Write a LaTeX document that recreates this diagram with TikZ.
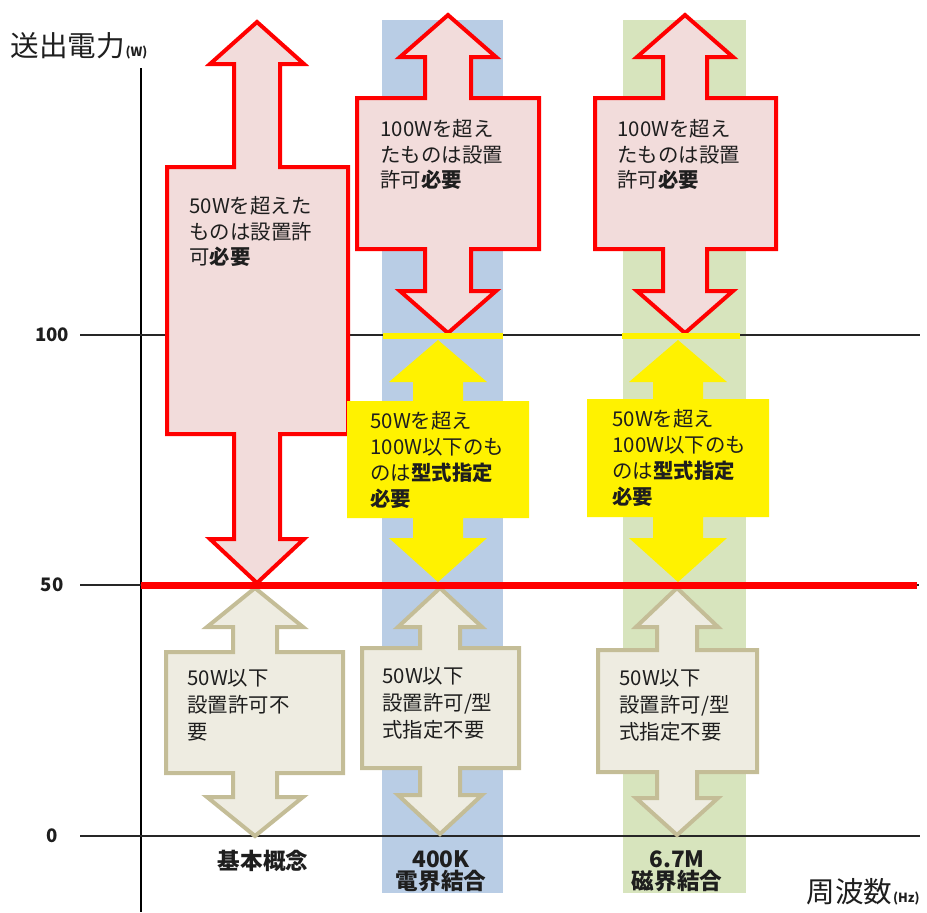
\documentclass[tikz,border=0pt]{standalone}
\usepackage{fontspec}
\setmainfont{Noto Sans CJK JP}
\usepackage{xcolor}

\definecolor{boxpink}{HTML}{F2DCDB}
\definecolor{boxbeige}{HTML}{EEECE1}
\definecolor{linebeige}{HTML}{C4BD97}
\definecolor{colblue}{HTML}{B9CDE5}
\definecolor{colgreen}{HTML}{D7E4BD}
\definecolor{txtdark}{HTML}{1E1E1E}

\begin{document}
\begin{tikzpicture}[x=0.5pt, y=-0.5pt,
  redarrow/.style={draw=red, fill=boxpink, line width=2pt},
  yelarrow/.style={fill=yellow},
  begarrow/.style={draw=linebeige, fill=boxbeige, line width=2pt},
  gridline/.style={black!85, line width=0.8pt},
  redtext/.style={anchor=north west, align=left, inner sep=0pt, text=txtdark, font=\fontsize{10.2}{12.75}\selectfont},
  yeltext/.style={anchor=north west, align=left, inner sep=0pt, text=txtdark, font=\fontsize{10.2}{13}\selectfont},
  begtext/.style={anchor=north west, align=left, inner sep=0pt, text=txtdark, font=\fontsize{10.2}{13.5}\selectfont},
  ticklbl/.style={inner sep=0pt, text=txtdark, font=\fontsize{9.3}{9.3}\selectfont\bfseries},
  collbl/.style={align=center, inner sep=0pt, text=txtdark, font=\fontsize{11.3}{11}\selectfont\bfseries},
  axistitle/.style={inner sep=0pt, text=txtdark, font=\fontsize{14.3}{14.3}\selectfont},
  unitlbl/.style={inner sep=0pt, text=txtdark, font=\fontsize{6.3}{6.3}\selectfont\bfseries}]

\useasboundingbox (0,0) rectangle (927,912);

% columns
\fill[colblue] (382,20) rectangle (503,893);
\fill[colgreen] (623,20) rectangle (746,893);

% axes
\draw[black, line width=1pt] (141,68) -- (141,912);
\draw[gridline] (80,335) -- (920,335);
\draw[gridline] (80,585) -- (919,585);
\draw[gridline] (80,836) -- (920,836);

\node[ticklbl] (t100) at (52,335) {100};
\node[ticklbl] (t50) at (52,585) {50};
\node[ticklbl] (t0) at (52,836) {0};

\node[axistitle, anchor=west] (ytitle) at (10,46) {送出電力};
\node[unitlbl, anchor=base west] (yunit) at (ytitle.base east) {(W)};
\node[axistitle, anchor=west] (xtitle) at (806,892) {周波数};
\node[unitlbl, anchor=base west] (xunit) at (xtitle.base east) {(Hz)};

% red arrows
\draw[redarrow] (257,22)--(304,64)--(280,64)--(280,167)--(348,167)--(348,434)--(280,434)--(280,539)--(304,539)--(257,583)--(210,539)--(234,539)--(234,434)--(167,434)--(167,167)--(234,167)--(234,64)--(210,64)--cycle;
\draw[redarrow] (448,15)--(496,57)--(471,57)--(471,98)--(539,98)--(539,249)--(471,249)--(471,291)--(496,291)--(448,333)--(400,291)--(425,291)--(425,249)--(357,249)--(357,98)--(425,98)--(425,57)--(400,57)--cycle;
\draw[redarrow] (685,15)--(733,57)--(707,57)--(707,98)--(776,98)--(776,249)--(707,249)--(707,291)--(733,291)--(685,333)--(637,291)--(663,291)--(663,249)--(595,249)--(595,98)--(663,98)--(663,57)--(637,57)--cycle;

% yellow arrows
\fill[yelarrow] (438,340)--(487,382)--(463,382)--(463,401)--(529,401)--(529,518)--(463,518)--(463,538)--(487,538)--(438,582)--(389,538)--(413,538)--(413,518)--(347,518)--(347,401)--(413,401)--(413,382)--(389,382)--cycle;
\fill[yelarrow] (678,340)--(727,382)--(703,382)--(703,399)--(769,399)--(769,517)--(703,517)--(703,538)--(727,538)--(678,582)--(629,538)--(653,538)--(653,517)--(587,517)--(587,399)--(653,399)--(653,382)--(629,382)--cycle;

% beige arrows
\draw[begarrow] (255,588)--(303,627)--(277,627)--(277,652)--(343,652)--(343,773)--(277,773)--(277,797)--(303,797)--(255,836)--(207,797)--(233,797)--(233,773)--(166,773)--(166,652)--(233,652)--(233,627)--(207,627)--cycle;
\draw[begarrow] (440,588)--(482,627)--(460,627)--(460,648)--(519,648)--(519,768)--(460,768)--(460,795)--(482,795)--(440,834)--(398,795)--(420,795)--(420,768)--(362,768)--(362,648)--(420,648)--(420,627)--(398,627)--cycle;
\draw[begarrow] (677,588)--(718,627)--(697,627)--(697,650)--(757,650)--(757,772)--(697,772)--(697,798)--(718,798)--(677,835)--(636,798)--(657,798)--(657,772)--(598,772)--(598,650)--(657,650)--(657,627)--(636,627)--cycle;

% limit marks
\draw[yellow, line width=3pt] (383,336) -- (503,336);
\draw[yellow, line width=3pt] (622,336) -- (740,336);
\draw[red, line width=3.5pt] (141,585) -- (917,585);

% texts
\node[redtext] (r1) at (189,196) {50Wを超えた\\ものは設置許\\可\textbf{必要}};
\node[redtext] (r2) at (380,119) {100Wを超え\\たものは設置\\許可\textbf{必要}};
\node[redtext] (r3) at (617,119) {100Wを超え\\たものは設置\\許可\textbf{必要}};

\node[yeltext] (y2) at (370,411) {50Wを超え\\100W以下のも\\のは\textbf{型式指定}\\\textbf{必要}};
\node[yeltext] (y3) at (612,409) {50Wを超え\\100W以下のも\\のは\textbf{型式指定}\\\textbf{必要}};

\node[begtext] (b1) at (187,669) {50W以下\\設置許可不\\要};
\node[begtext] (b2) at (382,667) {50W以下\\設置許可/型\\式指定不要};
\node[begtext] (b3) at (619,669) {50W以下\\設置許可/型\\式指定不要};

\node[collbl] (c1) at (263,861) {基本概念};
\node[collbl] (c2) at (441,871) {400K\\電界結合};
\node[collbl] (c3) at (677,871) {6.7M\\磁界結合};

\end{tikzpicture}
\end{document}
